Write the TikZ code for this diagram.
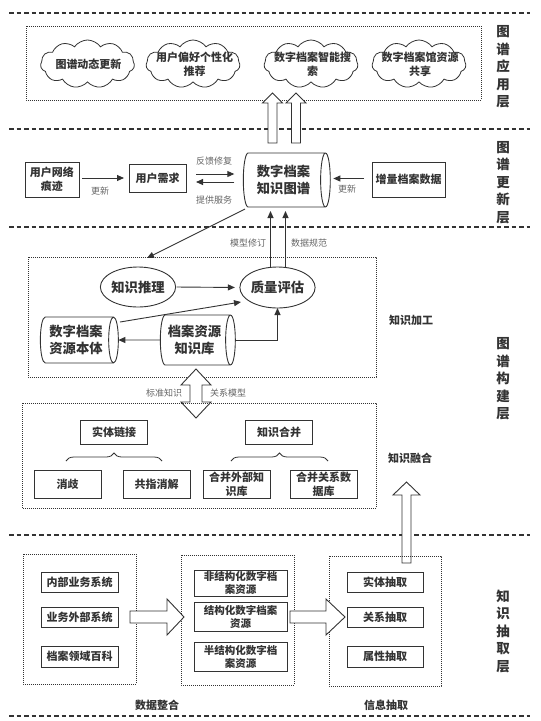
\documentclass[tikz,border=0pt]{standalone}
\usepackage{fontspec}
\setmainfont{Noto Sans CJK SC}
\usetikzlibrary{shapes.geometric,shapes.symbols,arrows.meta,decorations.pathreplacing,calc}
\definecolor{ln}{HTML}{333333}
\definecolor{lbl}{HTML}{666666}
\newcommand\fs[2]{\fontsize{#1}{#2}\selectfont}
\begin{document}
\begin{tikzpicture}[x=1pt,y=-1pt,
  every node/.style={inner sep=0pt, outer sep=0pt},
  layerline/.style={draw=ln, line width=1.1pt, dash pattern=on 4.5pt off 3pt},
  dotbox/.style={draw=ln, line width=0.7pt, dash pattern=on 0.8pt off 1.2pt},
  box/.style={draw=ln, line width=0.9pt, fill=white, align=center, font=\fs{11}{14}\bfseries, text=ln},
  cloudnode/.style={cloud, cloud puffs=11, cloud puff arc=110, cloud ignores aspect, draw=ln, line width=0.8pt, minimum width=94pt, minimum height=48pt},
  cloudtext/.style={align=center, font=\fs{11}{14}\bfseries, text=ln},
  cyl/.style={cylinder, draw=ln, line width=0.9pt, aspect=0.3, align=center, font=\fs{13.3}{17.5}\bfseries, text=ln, inner sep=1pt},
  ell/.style={ellipse, draw=ln, line width=0.9pt, font=\fs{13.3}{16}\bfseries, text=ln, minimum width=66pt, minimum height=40pt},
  arr/.style={draw=ln, line width=0.9pt, -{Triangle[length=7pt,width=6pt]}},
  small/.style={text=lbl, font=\fs{9}{11}},
  layerlbl/.style={align=center, font=\fs{13.5}{17.5}\bfseries, text=ln},
  sublbl/.style={font=\fs{11}{13}\bfseries, text=ln},
  hollow/.style={draw=ln, line width=0.9pt, fill=white},
  bracestyle/.style={draw=ln, line width=0.8pt, decorate, decoration={brace, amplitude=8pt}},
]
\fill[white] (0,0) rectangle (541,721);
\useasboundingbox (0,0) rectangle (541,721);

% layer separators
\draw[layerline] (9,13) -- (530,13);
\draw[layerline] (9,129) -- (530,129);
\draw[layerline] (9,227) -- (530,227);
\draw[layerline] (9,535) -- (530,535);
\draw[layerline] (9,716) -- (530,716);

% layer labels
\node[layerlbl] (L1) at (503,67) {图\\谱\\应\\用\\层};
\node[layerlbl] (L2) at (503,182.5) {图\\谱\\更\\新\\层};
\node[layerlbl] (L3) at (503,379) {图\\谱\\构\\建\\层};
\node[layerlbl] (L4) at (503,631) {知\\识\\抽\\取\\层};

% ===== application layer
\draw[dotbox] (26,26) rectangle (481,100);
\node[cloudnode] (c1) at (87.5,64) {};
\node[cloudnode] (c2) at (193,64) {};
\node[cloudnode] (c3) at (311,64) {};
\node[cloudnode] (c4) at (419,64) {};
\node[cloudtext] (t1) at ([xshift=1pt]c1) {图谱动态更新};
\node[cloudtext] (t2) at ([xshift=1.5pt]c2) {用户偏好个性化\\推荐};
\node[cloudtext] (t3) at ([xshift=1.5pt]c3) {数字档案智能搜\\索};
\node[cloudtext] (t4) at ([xshift=1pt]c4) {数字档案馆资源\\共享};

% ===== update layer
\node[box, minimum width=54pt, minimum height=35pt] (trace) at (52,179.5) {用户网络\\痕迹};
\node[box, minimum width=57pt, minimum height=28pt] (need) at (157.5,178) {用户需求};
\node[cyl, minimum height=87pt, minimum width=54pt] (kg) at (283.5,180) {数字档案\\知识图谱};
\node[box, minimum width=73pt, minimum height=35pt] (inc) at (408.5,179.5) {增量档案数据};

\draw[arr, shorten <=3pt, shorten >=5pt] (trace.east |- need.east) -- (need.west);
\node[small] (u1) at (100,191) {更新};
\draw[arr, shorten <=10pt, shorten >=9pt] ([yshift=4pt]need.east) -- ([yshift=4pt]need.east -| kg.west);
\draw[arr, shorten <=9pt, shorten >=10pt] ([yshift=-4pt]need.east -| kg.west) -- ([yshift=-4pt]need.east);
\node[small] (u2) at (214,161) {反馈修复};
\node[small] (u3) at (214,200) {提供服务};
\draw[arr, shorten <=8pt, shorten >=3pt] ([yshift=1pt]inc.west) -- ([yshift=1pt]inc.west -| kg.east);
\node[small] (u4) at (347,189) {更新};

% hollow arrows kg -> application
\draw[hollow] (268,143) -- (268,103) -- (262.5,103) -- (272.5,93) -- (282.5,103) -- (277,103) -- (277,143) -- cycle;
\draw[hollow] (291.5,143) -- (291.5,103) -- (286,103) -- (296,93) -- (306,103) -- (300.5,103) -- (300.5,143) -- cycle;

% ===== construction layer: knowledge processing
\draw[dotbox] (28,257) rectangle (376,377);
\node[ell] (infer) at (138,287) {知识推理};
\node[ell, minimum width=67pt, minimum height=41pt] (qa) at (277.5,287.5) {质量评估};
\node[cyl, minimum height=78pt, minimum width=46pt] (ont) at (76,340) {数字档案\\资源本体};
\node[cyl, minimum height=75pt, minimum width=50pt] (kb) at (194.5,340) {档案资源\\知识库};

\coordinate (d1) at (245,209);
\coordinate (d2) at (147,258);
\draw[arr] (d1) -- (d2);
\draw[arr, shorten >=4pt] ([xshift=-7pt]qa.north) -- ([xshift=-7pt]qa.north |- kg.south);
\draw[arr, shorten >=4pt] ([xshift=8pt]qa.north) -- ([xshift=8pt]qa.north |- kg.south);
\node[small] (u5) at (248,243) {模型修订};
\node[small] (u6) at (309,243) {数据规范};
\draw[arr, shorten <=1pt, shorten >=5pt] (infer.east) -- (qa.west);
\coordinate (o1) at (120,322);
\coordinate (q1) at (241,302);
\draw[arr] (o1) -- (q1);
\draw[arr] (kb.west) -- (ont.east);
\draw[arr] (kb.east) -| (qa.south);
\node[sublbl] (s1) at (411,320) {知识加工};

% double hollow arrow
\draw[hollow] (196,369) -- (211,385) -- (202,385) -- (202,402) -- (211,402) -- (196,418) -- (181,402) -- (190,402) -- (190,385) -- (181,385) -- cycle;
\node[small] (u7) at (164,393) {标准知识};
\node[small] (u8) at (228,393) {关系模型};

% ===== knowledge fusion
\draw[dotbox] (22,403) rectangle (376,508);
\node[box, minimum width=67pt, minimum height=24pt] (link) at (114,432) {实体链接};
\node[box, minimum width=67pt, minimum height=24pt] (merge) at (279,432) {知识合并};
\node[box, minimum width=67pt, minimum height=28pt] (dis) at (67.5,484) {消歧};
\node[box, minimum width=67pt, minimum height=28pt] (coref) at (156.5,484) {共指消解};
\node[box, minimum width=67pt, minimum height=28pt] (extkb) at (236.5,484) {合并外部知\\识库};
\node[box, minimum width=67pt, minimum height=28pt] (reldb) at (323.5,484) {合并关系数\\据库};
\draw[bracestyle] (66,461) -- (162,461);
\draw[bracestyle] (231,461) -- (328,461);
\node[sublbl] (s2) at (410,458) {知识融合};

% hollow up arrow from extraction
\draw[hollow] (402,563) -- (402,495) -- (393,495) -- (406.5,482) -- (420,495) -- (411,495) -- (411,563) -- cycle;

% ===== extraction layer
\draw[dotbox] (23,554) rectangle (136,684);
\node[box, minimum width=77pt, minimum height=20pt] (src1) at (79.5,582) {内部业务系统};
\node[box, minimum width=77pt, minimum height=20pt] (src2) at (79.5,617) {业务外部系统};
\node[box, minimum width=77pt, minimum height=21pt] (src3) at (79.5,656.5) {档案领域百科};

\draw[dotbox] (181,555) rectangle (294,685);
\node[box, font=\fs{10.5}{13}\bfseries, minimum width=93pt, minimum height=26pt] (r1) at (240.5,583) {非结构化数字档\\案资源};
\node[box, font=\fs{10.5}{13}\bfseries, minimum width=93pt, minimum height=29pt] (r2) at (240.5,616.5) {结构化数字档案\\资源};
\node[box, font=\fs{10.5}{13}\bfseries, minimum width=93pt, minimum height=29pt] (r3) at (240.5,656.5) {半结构化数字档\\案资源};

\draw[dotbox] (329,556) rectangle (441,686);
\node[box, minimum width=76pt, minimum height=20pt] (e1) at (385,582) {实体抽取};
\node[box, minimum width=76pt, minimum height=20pt] (e2) at (385,617) {关系抽取};
\node[box, minimum width=76pt, minimum height=21pt] (e3) at (385,656.5) {属性抽取};

\draw[hollow] (130,611) -- (167,611) -- (167,599) -- (184,617) -- (167,635) -- (167,623) -- (130,623) -- cycle;
\draw[hollow] (290,611) -- (326,611) -- (326,599) -- (345,617) -- (326,635) -- (326,623) -- (290,623) -- cycle;

\node[sublbl] (s3) at (157,705) {数据整合};
\node[sublbl] (s4) at (386,705) {信息抽取};
\end{tikzpicture}
\end{document}
